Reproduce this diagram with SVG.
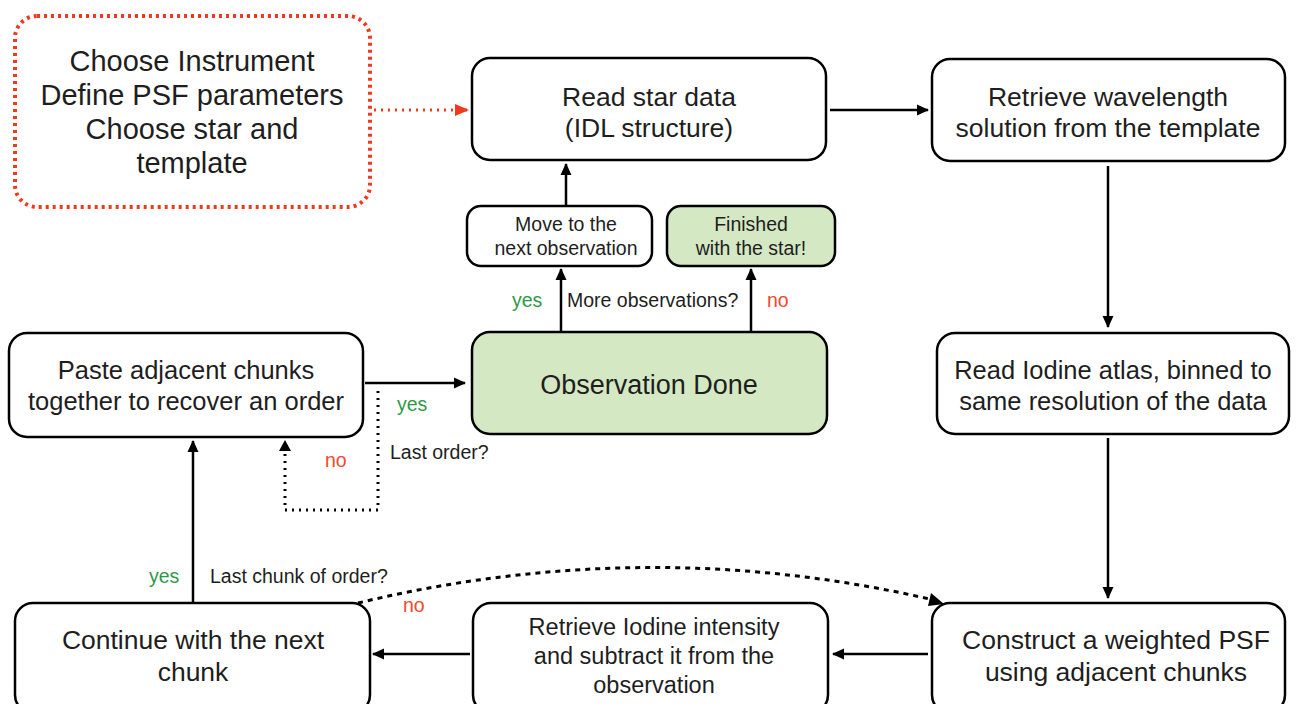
<svg xmlns="http://www.w3.org/2000/svg" width="1296" height="704" viewBox="0 0 1296 704">
<defs>
<style>
.box{fill:#fff;stroke:#000;stroke-width:2.5}
.g{fill:#d5e8c4}
.t{font-family:"Liberation Sans",Arial,sans-serif;fill:#1e1e1e;text-anchor:middle}
.l{font-family:"Liberation Sans",Arial,sans-serif;font-size:19.5px;fill:#1e1e1e}
.yes{fill:#2e9a48}
.no{fill:#f04a2e}
.c{fill:none;stroke:#000;stroke-width:2.5}
</style>
<marker id="ah" markerWidth="12" markerHeight="12" refX="11" refY="6" orient="auto" markerUnits="userSpaceOnUse" viewBox="0 0 12 12"><path d="M0,0.5 L12,6 L0,11.5 z" fill="#000"/></marker>
<marker id="ahr" markerWidth="14" markerHeight="14" refX="13" refY="7" orient="auto" markerUnits="userSpaceOnUse" viewBox="0 0 14 14"><path d="M0,1 L14,7 L0,13 z" fill="#f03a1e"/></marker>
</defs>

<g id="setup">
<rect x="15" y="16" width="355" height="191" rx="22" fill="#fff" stroke="#f03a1e" stroke-width="4" stroke-dasharray="3,4"/>
<text class="t" font-size="29" x="192" y="71">Choose Instrument</text>
<text class="t" font-size="29" x="192" y="105">Define PSF parameters</text>
<text class="t" font-size="29" x="192" y="139">Choose star and</text>
<text class="t" font-size="29" x="192" y="173">template</text>
</g>

<g id="read-star">
<rect class="box" x="472" y="58" width="354" height="102" rx="18"/>
<text class="t" font-size="26.5" x="649" y="106">Read star data</text>
<text class="t" font-size="26.5" x="649" y="137">(IDL structure)</text>
</g>

<g id="wavelength">
<rect class="box" x="932" y="59" width="353" height="102" rx="18"/>
<text class="t" font-size="26.5" x="1108" y="106">Retrieve wavelength</text>
<text class="t" font-size="26.5" x="1108" y="137">solution from the template</text>
</g>

<g id="iodine-atlas">
<rect class="box" x="937" y="333" width="352" height="101" rx="18"/>
<text class="t" font-size="25.5" x="1113" y="379">Read Iodine atlas, binned to</text>
<text class="t" font-size="25.5" x="1113" y="410">same resolution of the data</text>
</g>

<g id="construct-psf">
<rect class="box" x="932" y="603" width="353" height="110" rx="18"/>
<text class="t" font-size="26.5" x="1116" y="649">Construct a weighted PSF</text>
<text class="t" font-size="26.5" x="1116" y="681">using adjacent chunks</text>
</g>

<g id="retrieve-iodine">
<rect class="box" x="473" y="603" width="355" height="110" rx="18"/>
<text class="t" font-size="23.5" x="654" y="635">Retrieve Iodine intensity</text>
<text class="t" font-size="23.5" x="654" y="664">and subtract it from the</text>
<text class="t" font-size="23.5" x="654" y="693">observation</text>
</g>

<g id="continue">
<rect class="box" x="15" y="603" width="355" height="110" rx="18"/>
<text class="t" font-size="26.5" x="193" y="649">Continue with the next</text>
<text class="t" font-size="26.5" x="193" y="681">chunk</text>
</g>

<g id="paste">
<rect class="box" x="9" y="333" width="354" height="104" rx="18"/>
<text class="t" font-size="25.5" x="186" y="379">Paste adjacent chunks</text>
<text class="t" font-size="25.5" x="186" y="410">together to recover an order</text>
</g>

<g id="obs-done">
<rect class="box g" x="472" y="332" width="355" height="102" rx="18"/>
<text class="t" font-size="27" x="649" y="394">Observation Done</text>
</g>

<g id="next-obs">
<rect class="box" x="467" y="206" width="185" height="60" rx="14"/>
<text class="t" font-size="19.5" x="566" y="231">Move to the</text>
<text class="t" font-size="19.5" x="566" y="255">next observation</text>
</g>

<g id="finished">
<rect class="box g" x="667" y="206" width="168" height="60" rx="14"/>
<text class="t" font-size="19.5" x="751" y="231">Finished</text>
<text class="t" font-size="19.5" x="751" y="255">with the star!</text>
</g>

<g id="connectors">
<path d="M374,110 L468,110" fill="none" stroke="#f03a1e" stroke-width="3" stroke-dasharray="2,5" marker-end="url(#ahr)"/>
<path class="c" d="M830,110 L928,110" marker-end="url(#ah)"/>
<path class="c" d="M1108,166 L1108,327" marker-end="url(#ah)"/>
<path class="c" d="M1108,438 L1108,598" marker-end="url(#ah)"/>
<path class="c" d="M928,654 L833,654" marker-end="url(#ah)"/>
<path class="c" d="M470,654 L373,654" marker-end="url(#ah)"/>
<path class="c" d="M193,602 L193,441" marker-end="url(#ah)"/>
<path class="c" d="M365,383 L465,383" marker-end="url(#ah)"/>
<path fill="none" stroke="#000" stroke-width="3" stroke-dasharray="2,5" d="M378,391 L378,510 L285,510 L285,446"/>
<path d="M279,451 L285,440 L291,451 z" fill="#000"/>
<path class="c" d="M561,331 L561,269" marker-end="url(#ah)"/>
<path class="c" d="M751,331 L751,269" marker-end="url(#ah)"/>
<path class="c" d="M566,205 L566,164" marker-end="url(#ah)"/>
<path fill="none" stroke="#000" stroke-width="3" stroke-dasharray="5,5" d="M358,603 Q650,533 938,601"/>
<path d="M931,593 L944,604 L928,606 z" fill="#000"/>
</g>

<g id="labels">
<text class="l yes" x="512" y="307">yes</text>
<text class="l" x="567" y="307">More observations?</text>
<text class="l no" x="767" y="307">no</text>
<text class="l yes" x="397" y="411">yes</text>
<text class="l" x="390" y="459">Last order?</text>
<text class="l no" x="325" y="467">no</text>
<text class="l yes" x="149" y="583">yes</text>
<text class="l" x="210" y="583">Last chunk of order?</text>
<text class="l no" x="403" y="612">no</text>
</g>
</svg>
